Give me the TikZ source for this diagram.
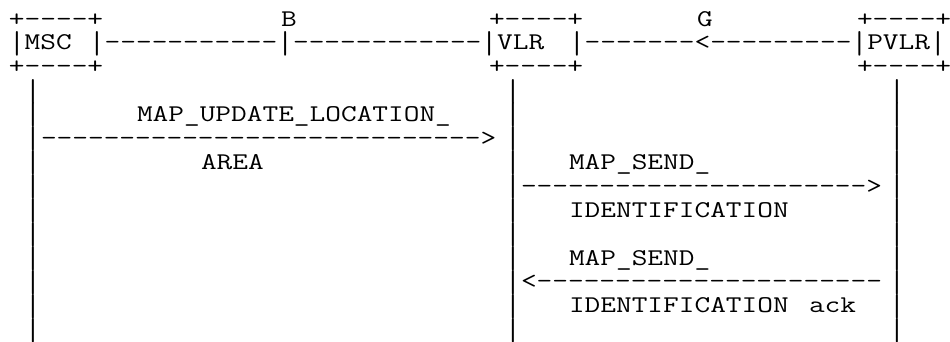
\documentclass[tikz,border=0pt]{standalone}
\usepackage{fontspec}
\newcommand\mytt[1]{\scalebox{1.27}[1]{#1}}
\newcommand\vb{\raisebox{-6pt}{\resizebox*{\width}{24.6pt}{\raisebox{\depth}{|}}}}
\begin{document}
\begin{tikzpicture}[x=1pt,y=-1pt,
  asc/.style={font=\ttfamily\fontsize{24pt}{24pt}\selectfont, inner sep=0pt, outer sep=0pt, anchor=base west, text=black}]
\useasboundingbox (0,0) rectangle (950,341);
% row 0
\node[asc] (mscTop)  at (9,26)   {\mytt{+----+}};
\node[asc] (labB)    at (281,26) {\mytt{B}};
\node[asc] (vlrTop)  at (489,26) {\mytt{+----+}};
\node[asc] (labG)    at (697,26) {\mytt{G}};
\node[asc] (pvlrTop) at (857,26) {\mytt{+----+}};
% row 1
\node[asc] (msc)     at (9,49.9)   {\mytt{\vb MSC}};
\node[asc] (linkB)   at (89,49.9)  {\mytt{\vb-----------\vb------------\vb VLR}};
\node[asc] (linkG)   at (569,49.9) {\mytt{\vb-------<---------\vb PVLR\vb}};
% row 2
\node[asc] (mscBot)  at (9,73.8)   {\mytt{+----+}};
\node[asc] (vlrBot)  at (489,73.8) {\mytt{+----+}};
\node[asc] (pvlrBot) at (857,73.8) {\mytt{+----+}};
% lifelines
\foreach \r in {3,...,13}{
  \node[asc] (llmsc\r)  at (25,{26+23.9*\r})  {\mytt{\vb}};
  \node[asc] (llvlr\r)  at (505,{26+23.9*\r}) {\mytt{\vb}};
  \node[asc] (llpvlr\r) at (889,{26+23.9*\r}) {\mytt{\vb}};
}
% message 1
\node[asc] (m1a)  at (137,121.6) {\mytt{MAP\_UPDATE\_LOCATION\_}};
\node[asc] (m1)   at (41,145.5)  {\mytt{---------------------------->}};
\node[asc] (m1b)  at (201,169.4) {\mytt{AREA}};
% message 2
\node[asc] (m2a)  at (569,169.4) {\mytt{MAP\_SEND\_}};
\node[asc] (m2)   at (521,193.3) {\mytt{---------------------->}};
\node[asc] (m2b)  at (569,217.2) {\mytt{IDENTIFICATION}};
% message 3
\node[asc] (m3a)  at (569,265)   {\mytt{MAP\_SEND\_}};
\node[asc] (m3)   at (521,288.9) {\mytt{<----------------------}};
\node[asc] (m3b)  at (569,312.8) {\mytt{IDENTIFICATION}};
\node[asc] (m3c)  at (809,312.8) {\mytt{ack}};
\end{tikzpicture}
\end{document}
